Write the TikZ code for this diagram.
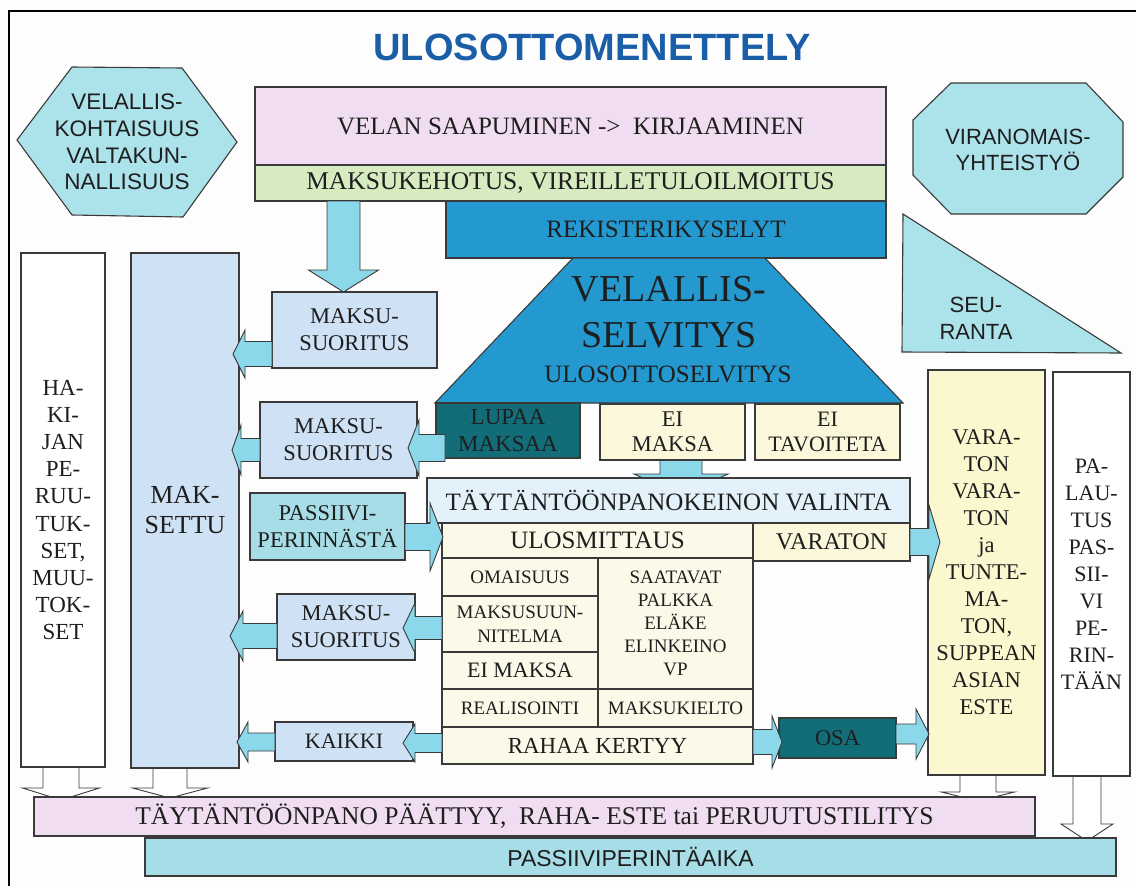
\documentclass[tikz,border=0pt]{standalone}
\usepackage{fontspec}
\setmainfont{Liberation Serif}
\setsansfont{Liberation Sans}
\newfontfamily\tnr{Liberation Serif}
\newfontfamily\arl{Liberation Sans}
\usetikzlibrary{calc}
\pgfdeclarelayer{back}
\pgfdeclarelayer{under}
\pgfsetlayers{back,under,main}

\definecolor{ink}{HTML}{1E1E1E}
\definecolor{edge}{HTML}{3A3A3A}
\definecolor{titleblue}{HTML}{1A5EA8}
\definecolor{pinkfill}{HTML}{F1DDF1}
\definecolor{greenfill}{HTML}{D6EBC0}
\definecolor{bluefill}{HTML}{2499D0}
\definecolor{cyanfill}{HTML}{ACE2EA}
\definecolor{paleblue}{HTML}{CFE1F4}
\definecolor{tealfill}{HTML}{A7DDE6}
\definecolor{arrowfill}{HTML}{8BD8EA}
\definecolor{darkteal}{HTML}{136D78}
\definecolor{cream}{HTML}{FBF9E8}
\definecolor{lightyellow}{HTML}{FAF7DA}
\definecolor{yellowfill}{HTML}{FBF8D0}
\definecolor{iceblue}{HTML}{E3F2FA}
\definecolor{paper}{HTML}{FDFDFD}

% serif text at a given size and leading
\newcommand\rsz[2]{\tnr\fontsize{#1}{#2}\selectfont}
% sans text at a given size and leading
\newcommand\sfz[2]{\arl\fontsize{#1}{#2}\selectfont}

\tikzset{
  box/.style={draw=edge, line width=1.1pt, inner sep=0pt, outer sep=0pt,
              align=center, text=ink},
  lbl/.style={inner sep=0pt, align=center, text=ink},
  shp/.style={draw=edge, line width=1.1pt, line join=miter},
  blk/.style={draw=edge, line width=0.9pt, fill=arrowfill, line join=miter},
  hollow/.style={draw=edge, line width=0.9pt, fill=white, line join=miter},
}

% horizontal block arrow: start, tip, shaft half-height, head half-height, signed head length
\newcommand\arrowH[6][blk]{%
  \draw[#1] let \p1=#2, \p2=#3 in
    (\x1,{\y1+#4pt}) -- ({\x2-1pt*(#6)},{\y1+#4pt}) -- ({\x2-1pt*(#6)},{\y1+#5pt})
    -- (\x2,\y1) -- ({\x2-1pt*(#6)},{\y1-#5pt}) -- ({\x2-1pt*(#6)},{\y1-#4pt})
    -- (\x1,{\y1-#4pt}) -- cycle;}
% downward block arrow: start, tip, shaft half-width, head half-width, head length
\newcommand\arrowV[6][blk]{%
  \draw[#1] let \p1=#2, \p2=#3 in
    ({\x1+#4pt},\y1) -- ({\x1+#4pt},{\y2+1pt*(#6)}) -- ({\x1+#5pt},{\y2+1pt*(#6)})
    -- (\x1,\y2) -- ({\x1-#5pt},{\y2+1pt*(#6)}) -- ({\x1-#4pt},{\y2+1pt*(#6)})
    -- ({\x1-#4pt},\y1) -- cycle;}

\begin{document}
\begin{tikzpicture}[x=1pt, y=-1pt]
\useasboundingbox (0,0) rectangle (1136,886);
\begin{pgfonlayer}{back}
  \fill[paper] (0,0) rectangle (1136,886);
  \draw[line width=2.5pt, black] (9,886) -- (9,11) -- (1136,11);
\end{pgfonlayer}

% title
\node[font=\sfz{38}{40}\bfseries, text=titleblue, inner sep=0pt] (title) at (592,47) {ULOSOTTOMENETTELY};

% side shapes
\draw[shp, fill=cyanfill] (17,140) -- (72,67) -- (182,68) -- (237,142) -- (183,217) -- (72,215) -- cycle;
\node[lbl, font=\sfz{22.5}{26.7}] (valtak) at (127,142) {VELALLIS-\\KOHTAISUUS\\VALTAKUN-\\NALLISUUS};

\draw[shp, fill=cyanfill] (951,83) -- (1086,83) -- (1123,122) -- (1123,177) -- (1086,214) -- (951,214) -- (913,175) -- (913,120) -- cycle;
\node[lbl, font=\sfz{22}{26}] (viran) at (1018,150) {VIRANOMAIS-\\YHTEISTYÖ};

\draw[shp, fill=cyanfill] (903,214) -- (1121,353) -- (902,352) -- cycle;
\node[lbl, font=\sfz{22}{27}] (seur) at (976,318) {SEU-\\RANTA};

% top stack
\node[box, fill=pinkfill, minimum width=631pt, minimum height=78pt, font=\rsz{25}{28}] (velan) at (570.5,126) {VELAN SAAPUMINEN ->\ \ KIRJAAMINEN};
\node[box, fill=greenfill, minimum width=631pt, minimum height=36pt, font=\rsz{25.5}{28}] (kehotus) at (570.5,183) {MAKSUKEHOTUS, VIREILLETULOILMOITUS};
\node[box, fill=bluefill, minimum width=440pt, minimum height=57pt, font=\rsz{25}{28}] (rek) at (666,229.5) {REKISTERIKYSELYT};

% debtor investigation
\draw[shp, fill=bluefill] (573,258) -- (765,258) -- (903,403) -- (435,403) -- cycle;
\node[lbl, font=\rsz{38}{46}] (selv) at (669,312) {VELALLIS-\\SELVITYS};
\node[lbl, font=\rsz{25}{28}] (uselv) at (668,374) {ULOSOTTOSELVITYS};

\node[box, fill=darkteal, minimum width=144pt, minimum height=55pt, font=\rsz{23}{27}] (lupaa) at (508,430.5) {LUPAA\\MAKSAA};
\node[box, fill=lightyellow, minimum width=145pt, minimum height=56pt, font=\rsz{22.5}{25}] (eimaksa) at (672.5,432) {EI\\MAKSA};
\node[box, fill=lightyellow, minimum width=145pt, minimum height=56pt, font=\rsz{22}{25}] (eitav) at (827.5,432) {EI\\TAVOITETA};

% enforcement grid
\node[box, fill=iceblue, minimum width=483pt, minimum height=45pt, font=\rsz{25}{28}] (valinta) at (668.5,500.5) {TÄYTÄNTÖÖNPANOKEINON VALINTA};
\node[box, fill=cream, minimum width=311pt, minimum height=35pt, font=\rsz{25}{28}] (ulosm) at (597.5,540.5) {ULOSMITTAUS};
\node[box, fill=lightyellow, minimum width=157pt, minimum height=38pt, font=\rsz{24}{28}] (varS) at (831.5,542) {VARATON};
\node[box, fill=cream, minimum width=156pt, minimum height=38pt, font=\rsz{19}{23}] (omais) at (520,577) {OMAISUUS};
\node[box, fill=cream, minimum width=156pt, minimum height=56pt, font=\rsz{19}{24}] (msuunn) at (520,624) {MAKSUSUUN-\\NITELMA};
\node[box, fill=cream, minimum width=156pt, minimum height=37pt, font=\rsz{22}{25}] (eimaksa2) at (520,670.5) {EI MAKSA};
\node[box, fill=cream, minimum width=156pt, minimum height=38pt, font=\rsz{19}{23}] (realis) at (520,708) {REALISOINTI};
\node[box, fill=cream, minimum width=155pt, minimum height=131pt, font=\rsz{19}{23}] (saat) at (675.5,623.5) {SAATAVAT\\PALKKA\\ELÄKE\\ELINKEINO\\VP};
\node[box, fill=cream, minimum width=155pt, minimum height=38pt, font=\rsz{19}{23}] (mkielto) at (675.5,708) {MAKSUKIELTO};
\node[box, fill=cream, minimum width=311pt, minimum height=37pt, font=\rsz{23}{26}] (rahaa) at (597.5,745.5) {RAHAA KERTYY};
\node[box, fill=darkteal, minimum width=117pt, minimum height=40pt, font=\rsz{22.5}{26}] (osa) at (837.5,738) {OSA};

% right columns
\node[box, fill=yellowfill, minimum width=117pt, minimum height=405pt, font=\rsz{22.5}{27}] (var2) at (986.5,572.5) {VARA-\\TON\\VARA-\\TON\\ja\\TUNTE-\\MA-\\TON,\\SUPPEAN\\ASIAN\\ESTE};
\node[box, fill=white, minimum width=77pt, minimum height=404pt, font=\rsz{22}{27}] (pal) at (1091.5,574) {PA-\\LAU-\\TUS\\PAS-\\SII-\\VI\\PE-\\RIN-\\TÄÄN};

% left columns
\node[box, fill=white, minimum width=84pt, minimum height=514pt, font=\rsz{23}{27.1}] (hakijan) at (63,510) {HA-\\KI-\\JAN\\PE-\\RUU-\\TUK-\\SET,\\MUU-\\TOK-\\SET};
\node[box, fill=paleblue, minimum width=108pt, minimum height=515pt, font=\rsz{26}{30}] (mak) at (185,510.5) {MAK-\\SETTU};

% payment boxes
\node[box, fill=paleblue, minimum width=165pt, minimum height=76pt, font=\rsz{22.5}{27}] (ms1) at (354.5,330) {MAKSU-\\SUORITUS};
\node[box, fill=paleblue, minimum width=157pt, minimum height=76pt, font=\rsz{22.5}{27}] (ms2) at (338.5,440) {MAKSU-\\SUORITUS};
\node[box, fill=tealfill, minimum width=155pt, minimum height=67pt, font=\rsz{22.5}{27}] (passiivi) at (327.5,526.5) {PASSIIVI-\\PERINNÄSTÄ};
\node[box, fill=paleblue, minimum width=138pt, minimum height=66pt, font=\rsz{22.5}{27}] (ms3) at (346,627) {MAKSU-\\SUORITUS};
\node[box, fill=paleblue, minimum width=138pt, minimum height=39pt, font=\rsz{22}{26}] (kaikki) at (344,741.5) {KAIKKI};

% bottom bars
\node[box, fill=pinkfill, minimum width=1001pt, minimum height=39pt, font=\rsz{25.5}{28}] (paattyy) at (534.5,816.5) {TÄYTÄNTÖÖNPANO PÄÄTTYY,\ \ RAHA- ESTE tai PERUUTUSTILITYS};
\node[box, fill=tealfill, minimum width=971pt, minimum height=38pt, font=\sfz{23}{26}] (paika) at (630.5,857) {PASSIIVIPERINTÄAIKA};

% arrows that pass under the boxes
\begin{pgfonlayer}{under}
  \arrowV{(eimaksa.south -| 681,0)}{($(valinta.north -| 681,0)+(0,17)$)}{21}{47}{21}
  \arrowV[hollow]{(hakijan.south -| 61,0)}{($(paattyy.north -| 61,0)+(0,3)$)}{18}{38.5}{12}
  \arrowV[hollow]{(mak.south -| 170,0)}{($(paattyy.north -| 170,0)+(0,1)$)}{17}{37.5}{10}
  \arrowV[hollow]{(var2.south -| 978,0)}{($(paattyy.north -| 978,0)+(0,4)$)}{18}{36.5}{9}
  \arrowV[hollow]{(pal.south -| 1087,0)}{($(paika.north -| 1087,0)+(0,3)$)}{14}{26}{17}
\end{pgfonlayer}

% arrows on top
\arrowV{(kehotus.south -| 343.5,0)}{(ms1.north -| 343.5,0)}{16.5}{35}{22}
\arrowH{(ms1.west |- 0,354)}{($(mak.east |- 0,354)+(-6,0)$)}{12.5}{24}{-12}
\arrowH{($(lupaa.west |- 0,448)+(9,0)$)}{($(ms2.east |- 0,448)+(-9,0)$)}{13.5}{28}{-11}
\arrowH{(ms2.west |- 0,450)}{($(mak.east |- 0,450)+(-7,0)$)}{11.5}{25}{-9}
\arrowH{(passiivi.east |- 0,537)}{($(ulosm.west |- 0,537)+(1,0)$)}{13.5}{34}{13}
\arrowH{(msuunn.west |- 0,628)}{($(ms3.east |- 0,628)+(-12,0)$)}{11.5}{25}{-12}
\arrowH{(ms3.west |- 0,636)}{($(mak.east |- 0,636)+(-9,0)$)}{12.5}{25}{-13}
\arrowH{(rahaa.west |- 0,743)}{($(kaikki.east |- 0,743)+(-10,0)$)}{9.5}{19}{-12}
\arrowH{(kaikki.west |- 0,742)}{($(mak.east |- 0,742)+(-2,0)$)}{9}{20}{-11}
\arrowH{(varS.east |- 0,542)}{($(var2.west |- 0,542)+(12,0)$)}{13.5}{37}{11}
\arrowH{(rahaa.east |- 0,742)}{($(osa.west |- 0,742)+(3,0)$)}{12.5}{26}{10}
\arrowH{(osa.east |- 0,734)}{($(var2.west |- 0,734)+(1,0)$)}{10}{25}{13}
\end{tikzpicture}
\end{document}
